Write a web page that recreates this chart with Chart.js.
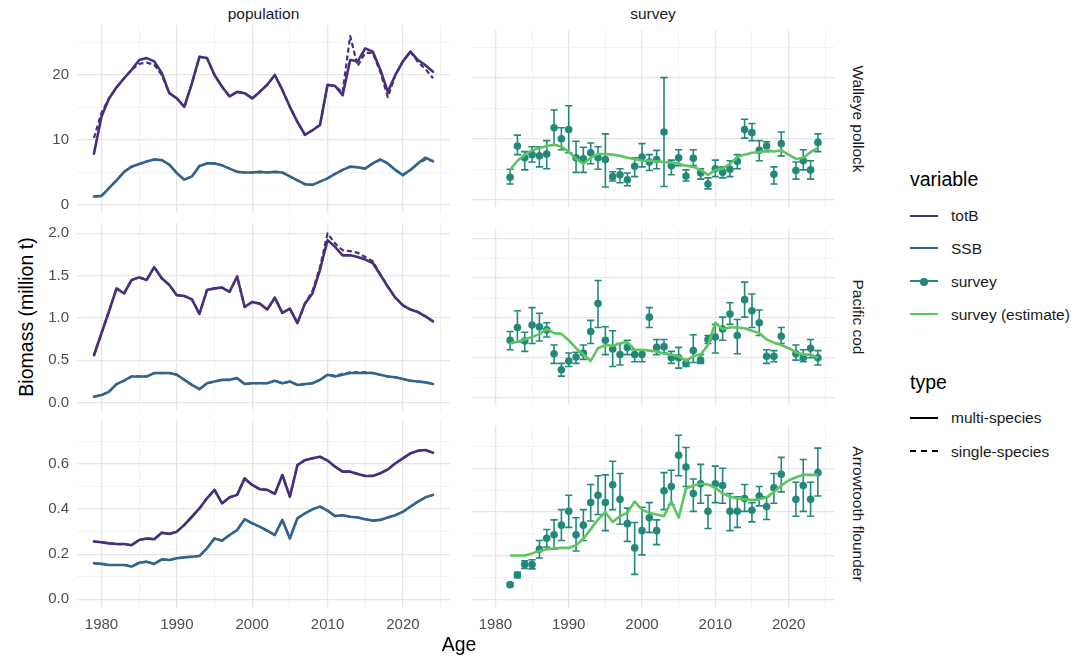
<!DOCTYPE html>
<html><head><meta charset="utf-8">
<script src="https://cdn.jsdelivr.net/npm/chart.js@4/dist/chart.umd.min.js"></script>
<style>
body{margin:0;background:#fff;width:1081px;height:657px;position:relative;overflow:hidden;font-family:"Liberation Sans",Arial,sans-serif}
canvas{position:absolute}
.t{position:absolute;white-space:nowrap;line-height:1}
.key{position:absolute;height:0}
</style></head><body>
<script>
// ---------------- DATA ----------------
const years = [1979,1980,1981,1982,1983,1984,1985,1986,1987,1988,1989,1990,1991,1992,1993,1994,1995,1996,1997,1998,1999,2000,2001,2002,2003,2004,2005,2006,2007,2008,2009,2010,2011,2012,2013,2014,2015,2016,2017,2018,2019,2020,2021,2022,2023,2024];
const surveyYears = [1982,1983,1984,1985,1986,1987,1988,1989,1990,1991,1992,1993,1994,1995,1996,1997,1998,1999,2000,2001,2002,2003,2004,2005,2006,2007,2008,2009,2010,2011,2012,2013,2014,2015,2016,2017,2018,2019,2021,2022,2023,2024];
const estYears = [1982,1983,1984,1985,1986,1987,1988,1989,1990,1991,1992,1993,1994,1995,1996,1997,1998,1999,2000,2001,2002,2003,2004,2005,2006,2007,2008,2009,2010,2011,2012,2013,2014,2015,2016,2017,2018,2019,2020,2021,2022,2023,2024];

// Walleye pollock
const pollockTotB_ms = [7.9,13.6,16.4,18.1,19.5,20.8,22.3,22.6,22.1,20.3,17.2,16.4,15.1,18.7,22.8,22.6,20.0,18.2,16.7,17.4,17.2,16.4,17.4,18.5,20.0,17.7,15.1,12.8,10.8,11.5,12.3,18.5,18.3,16.9,22.3,22.1,24.1,23.6,20.8,17.4,20.0,22.1,23.6,22.3,21.5,20.5];
const pollockTotB_ss = [10.3,14.2,16.4,18.1,19.5,20.8,21.7,21.9,21.6,20.0,17.2,16.4,15.1,18.7,22.8,22.6,20.0,18.2,16.7,17.4,17.2,16.4,17.4,18.5,20.0,17.7,15.1,12.8,10.8,11.5,12.3,18.5,18.3,17.3,26.0,21.4,23.4,23.4,20.5,16.6,20.0,22.1,23.6,22.0,20.9,19.5];
const pollockSSB_ms = [1.3,1.4,2.6,3.8,5.1,5.9,6.3,6.7,7.0,6.9,6.2,4.9,3.9,4.4,6.0,6.4,6.4,6.1,5.6,5.1,5.0,5.0,5.1,5.0,5.1,5.0,4.4,3.8,3.2,3.1,3.6,4.1,4.8,5.4,5.9,5.8,5.6,6.4,7.0,6.4,5.4,4.6,5.4,6.4,7.3,6.7];
const pollockSSB_ss = [1.3,1.4,2.6,3.8,5.1,5.9,6.3,6.7,7.0,6.9,6.2,4.9,3.9,4.4,6.0,6.4,6.4,6.1,5.6,5.1,5.0,5.0,5.1,5.0,5.1,5.0,4.4,3.8,3.2,3.1,3.6,4.1,4.8,5.4,5.9,5.8,5.6,6.4,7.0,6.4,5.4,4.6,5.4,6.4,7.0,6.8];
const pollockSurvey = [3.7,8.8,6.9,7.4,7.2,7.5,11.8,10.0,11.5,6.9,6.7,7.7,6.9,6.6,3.8,4.1,3.3,5.5,7.0,6.2,6.6,11.1,5.6,6.9,3.9,6.8,4.4,2.6,5.1,4.5,5.0,6.3,11.5,11.0,8.1,8.8,4.2,9.2,4.8,6.4,4.9,9.4];
const pollockLo = [2.6,7.4,4.9,6.2,5.4,5.1,9.0,8.2,7.7,4.5,4.5,5.9,5.0,2.1,3.1,2.8,2.3,3.8,5.4,4.8,5.1,2.2,4.1,5.6,3.1,5.6,3.4,1.8,3.8,3.6,3.8,5.1,10.1,9.7,6.4,7.9,2.6,7.2,3.4,4.9,3.4,7.9];
const pollockHi = [5.0,10.6,7.9,8.7,8.7,9.7,14.7,11.8,15.4,9.6,8.6,9.3,8.7,10.8,4.6,5.1,4.4,6.9,9.2,7.4,8.1,20.0,6.5,8.2,4.9,8.2,5.1,3.6,6.5,5.4,6.4,7.4,13.2,12.5,9.7,9.5,5.4,11.1,6.2,8.2,6.4,10.8];
const pollockEst = [4.9,6.4,7.4,8.1,8.5,8.8,9.0,8.7,7.9,6.7,5.9,6.9,7.5,7.5,7.4,7.2,6.9,6.7,6.4,6.4,6.3,6.2,6.1,5.9,5.6,5.4,4.9,4.1,4.9,5.1,5.9,7.0,7.4,7.7,7.8,8.1,7.9,8.1,7.4,6.7,6.9,7.8,8.5];

// Pacific cod
const codTotB_ms = [0.56,0.82,1.08,1.35,1.29,1.45,1.48,1.45,1.60,1.47,1.39,1.27,1.26,1.22,1.05,1.33,1.35,1.36,1.31,1.49,1.13,1.19,1.17,1.10,1.24,1.06,1.11,0.94,1.17,1.29,1.57,1.92,1.84,1.74,1.74,1.72,1.69,1.65,1.51,1.37,1.24,1.15,1.10,1.07,1.02,0.96];
const codTotB_ss = [0.56,0.82,1.08,1.35,1.29,1.45,1.48,1.45,1.60,1.47,1.39,1.27,1.26,1.22,1.05,1.33,1.35,1.36,1.31,1.49,1.13,1.19,1.17,1.10,1.24,1.06,1.11,0.94,1.17,1.32,1.60,2.00,1.88,1.80,1.79,1.77,1.72,1.67,1.52,1.37,1.24,1.15,1.10,1.07,1.02,0.96];
const codSSB_ms = [0.07,0.09,0.13,0.22,0.26,0.31,0.31,0.31,0.35,0.35,0.35,0.33,0.27,0.21,0.16,0.23,0.25,0.27,0.27,0.29,0.22,0.23,0.23,0.23,0.26,0.23,0.25,0.21,0.22,0.23,0.27,0.33,0.31,0.33,0.35,0.35,0.35,0.35,0.33,0.31,0.30,0.28,0.26,0.25,0.24,0.22];
const codSSB_ss = [0.07,0.09,0.13,0.22,0.26,0.31,0.31,0.31,0.35,0.35,0.35,0.33,0.27,0.21,0.16,0.23,0.25,0.27,0.27,0.29,0.22,0.23,0.23,0.23,0.26,0.23,0.25,0.21,0.22,0.23,0.27,0.33,0.32,0.34,0.36,0.36,0.36,0.35,0.33,0.31,0.30,0.28,0.26,0.25,0.24,0.22];
const codSurvey = [0.72,0.88,0.71,0.91,0.89,0.85,0.55,0.35,0.46,0.51,0.56,0.83,1.18,0.72,0.61,0.54,0.63,0.54,0.54,1.01,0.63,0.64,0.50,0.50,0.43,0.59,0.47,0.73,0.76,0.86,1.05,0.78,1.23,1.09,0.94,0.52,0.52,0.77,0.55,0.50,0.62,0.50];
const codLo = [0.60,0.70,0.58,0.68,0.71,0.76,0.43,0.27,0.39,0.43,0.48,0.68,0.88,0.54,0.39,0.41,0.54,0.45,0.45,0.88,0.54,0.56,0.43,0.37,0.39,0.44,0.43,0.68,0.56,0.72,0.92,0.55,1.01,0.88,0.78,0.43,0.45,0.68,0.47,0.45,0.50,0.41];
const codHi = [0.83,1.09,0.82,1.13,1.06,0.94,0.66,0.43,0.56,0.57,0.66,0.97,1.47,0.89,0.84,0.68,0.72,0.60,0.60,1.13,0.73,0.73,0.58,0.63,0.48,0.79,0.54,0.78,0.92,1.01,1.19,0.98,1.45,1.30,1.10,0.60,0.59,0.88,0.66,0.60,0.73,0.59];
const codEst = [0.68,0.70,0.73,0.76,0.80,0.86,0.81,0.80,0.72,0.62,0.54,0.46,0.62,0.66,0.65,0.68,0.70,0.60,0.60,0.59,0.58,0.55,0.54,0.52,0.46,0.52,0.54,0.66,0.94,0.86,0.88,0.88,0.87,0.84,0.81,0.73,0.69,0.66,0.62,0.57,0.54,0.54,0.50];

// Arrowtooth flounder
const arrowTotB_ms = [0.256,0.253,0.248,0.245,0.245,0.240,0.263,0.270,0.266,0.295,0.290,0.300,0.330,0.366,0.403,0.448,0.485,0.425,0.452,0.463,0.536,0.507,0.488,0.485,0.467,0.551,0.455,0.595,0.617,0.625,0.632,0.615,0.588,0.566,0.566,0.556,0.547,0.547,0.559,0.576,0.603,0.625,0.647,0.659,0.662,0.650];
const arrowTotB_ss = [0.256,0.253,0.248,0.245,0.245,0.240,0.263,0.270,0.266,0.295,0.290,0.300,0.330,0.366,0.403,0.448,0.485,0.425,0.452,0.463,0.536,0.507,0.488,0.485,0.467,0.551,0.455,0.595,0.617,0.625,0.632,0.615,0.588,0.566,0.566,0.556,0.547,0.547,0.559,0.576,0.603,0.625,0.647,0.659,0.662,0.650];
const arrowSSB_ms = [0.160,0.157,0.152,0.152,0.152,0.145,0.162,0.167,0.157,0.177,0.174,0.182,0.186,0.189,0.192,0.226,0.270,0.260,0.285,0.307,0.355,0.337,0.322,0.304,0.285,0.352,0.270,0.359,0.381,0.399,0.411,0.393,0.369,0.373,0.366,0.363,0.355,0.349,0.352,0.363,0.373,0.388,0.411,0.433,0.452,0.463];
const arrowSSB_ss = [0.160,0.157,0.152,0.152,0.152,0.145,0.162,0.167,0.157,0.177,0.174,0.182,0.186,0.189,0.192,0.226,0.270,0.260,0.285,0.307,0.355,0.337,0.322,0.304,0.285,0.352,0.270,0.359,0.381,0.399,0.411,0.393,0.369,0.373,0.366,0.363,0.355,0.349,0.352,0.363,0.373,0.388,0.411,0.433,0.452,0.463];
const arrowSurvey = [0.068,0.112,0.160,0.160,0.230,0.280,0.296,0.340,0.403,0.296,0.340,0.443,0.477,0.443,0.525,0.458,0.347,0.236,0.315,0.374,0.315,0.497,0.517,0.659,0.606,0.485,0.529,0.403,0.529,0.521,0.403,0.403,0.462,0.408,0.473,0.425,0.511,0.573,0.458,0.521,0.458,0.580];
const arrowLo = [0.060,0.100,0.142,0.140,0.190,0.240,0.230,0.270,0.330,0.222,0.270,0.359,0.389,0.315,0.411,0.344,0.266,0.115,0.204,0.307,0.251,0.411,0.433,0.566,0.517,0.403,0.440,0.325,0.443,0.440,0.315,0.330,0.403,0.355,0.428,0.366,0.440,0.492,0.381,0.403,0.381,0.473];
const arrowHi = [0.076,0.125,0.177,0.182,0.270,0.320,0.364,0.411,0.477,0.374,0.411,0.526,0.566,0.570,0.632,0.576,0.418,0.352,0.422,0.443,0.364,0.580,0.591,0.751,0.695,0.551,0.618,0.477,0.610,0.600,0.485,0.470,0.526,0.443,0.517,0.470,0.576,0.650,0.536,0.640,0.536,0.692];
const arrowEst = [0.201,0.201,0.201,0.211,0.222,0.230,0.233,0.236,0.236,0.248,0.278,0.322,0.366,0.399,0.355,0.381,0.396,0.448,0.411,0.396,0.389,0.381,0.448,0.374,0.507,0.521,0.529,0.526,0.511,0.485,0.470,0.462,0.458,0.455,0.458,0.467,0.492,0.521,0.544,0.559,0.570,0.570,0.570];

// Tick values / labels
const xGrid = [1980,1985,1990,1995,2000,2005,2010,2015,2020,2025];
const xLabels = [1980,1990,2000,2010,2020];
const yGridPollock = [0,5,10,15,20,25];
const yLabelsPollock = [0,10,20];
const yGridCod = [0,0.25,0.5,0.75,1,1.25,1.5,1.75,2];
const yLabelsCod = [0,0.5,1,1.5,2];
const yGridArrow = [0,0.1,0.2,0.3,0.4,0.5,0.6,0.7];
const yLabelsArrow = [0,0.2,0.4,0.6];

const rowNames = ["Walleye pollock","Pacific cod","Arrowtooth flounder"];
const colNames = ["population","survey"];
const legendVariable = ["totB","SSB","survey","survey (estimate)"];
const legendType = ["multi-species","single-species"];

// ---------------- STYLE / LAYOUT ----------------
const COL = {totB:'#472F7D', SSB:'#33648D', survey:'#22897A', est:'#5DC560'};
const FONT = '"Liberation Sans", Arial, sans-serif';
const colX = [{left:40, yw:37, w:410},{left:466, yw:0, w:374}];
const rowY = [{top:25, h:188},{top:223, h:188},{top:420, h:188}];
const rowRange = [{min:-1.23,max:27.69},{min:-0.098,max:2.122},{min:-0.0386,max:0.795}];
const rowGrid = [yGridPollock, yGridCod, yGridArrow];
const rowLabels = [yLabelsPollock, yLabelsCod, yLabelsArrow];
const rowDec = [0,1,1];
const XAXH = 27;

const pts = (xs, ys) => xs.map((x,i)=>({x:x, y:ys[i]}));
const inList = (v, list) => list.some(l => Math.abs(l - v) < 1e-6);

function popDatasets(totMs, totSs, ssbMs, ssbSs){
  const base = {showLine:true, pointRadius:0, fill:false, tension:0, borderJoinStyle:'round', borderCapStyle:'round'};
  return [
    Object.assign({}, base, {data:pts(years,totSs), borderColor:COL.totB, borderWidth:2.2, borderDash:[5,3], borderCapStyle:'butt'}),
    Object.assign({}, base, {data:pts(years,ssbSs), borderColor:COL.SSB, borderWidth:2.2, borderDash:[5,3], borderCapStyle:'butt'}),
    Object.assign({}, base, {data:pts(years,totMs), borderColor:COL.totB, borderWidth:2.6}),
    Object.assign({}, base, {data:pts(years,ssbMs), borderColor:COL.SSB, borderWidth:2.6})
  ];
}
function surveyDatasets(obs, lo, hi, est){
  const stems = [];
  surveyYears.forEach((yr,i)=>{ stems.push({x:yr,y:lo[i]},{x:yr,y:hi[i]},{x:yr,y:null}); });
  const caps = [];
  surveyYears.forEach((yr,i)=>{ caps.push({x:yr,y:lo[i]},{x:yr,y:hi[i]}); });
  return [
    {data:pts(estYears,est), borderColor:COL.est, borderWidth:2.6, pointRadius:0, fill:false, tension:0, borderJoinStyle:'round'},
    {data:pts(surveyYears,obs), showLine:false, pointRadius:3.8, pointBackgroundColor:COL.survey, pointBorderWidth:0, borderColor:COL.survey},
    {data:caps, showLine:false, pointStyle:'line', pointRadius:3.6, pointBorderWidth:1.6, pointBorderColor:COL.survey, borderColor:COL.survey},
    {data:stems, spanGaps:false, borderColor:COL.survey, borderWidth:1.6, pointRadius:0, fill:false}
  ];
}

const panelData = [
  [popDatasets(pollockTotB_ms,pollockTotB_ss,pollockSSB_ms,pollockSSB_ss), surveyDatasets(pollockSurvey,pollockLo,pollockHi,pollockEst)],
  [popDatasets(codTotB_ms,codTotB_ss,codSSB_ms,codSSB_ss), surveyDatasets(codSurvey,codLo,codHi,codEst)],
  [popDatasets(arrowTotB_ms,arrowTotB_ss,arrowSSB_ms,arrowSSB_ss), surveyDatasets(arrowSurvey,arrowLo,arrowHi,arrowEst)]
];

function gridStyle(isMajor){
  return {
    drawTicks:false,
    color: ctx => (ctx.tick && isMajor(ctx.tick.value)) ? '#E6E6E6' : '#F0F0F0',
    lineWidth: ctx => (ctx.tick && isMajor(ctx.tick.value)) ? 1.3 : 0.8
  };
}

for (let r=0;r<3;r++){
  for (let c=0;c<2;c++){
    const bottom = (r===2);
    const cv = document.createElement('canvas');
    const H = rowY[r].h + (bottom?XAXH:0);
    cv.width = colX[c].w; cv.height = H;
    cv.style.left = colX[c].left+'px'; cv.style.top = rowY[r].top+'px';
    cv.style.width = colX[c].w+'px'; cv.style.height = H+'px';
    document.body.appendChild(cv);
    const yw = colX[c].yw;
    new Chart(cv, {
      type:'line',
      data:{datasets: panelData[r][c]},
      options:{
        responsive:false, animation:false, devicePixelRatio:1,
        layout:{padding:0},
        plugins:{legend:{display:false}, tooltip:{enabled:false}},
        scales:{
          x:{
            type:'linear', min:1976.75, max:2026.25,
            afterBuildTicks: s => { s.ticks = xGrid.map(v=>({value:v})); },
            grid: gridStyle(v => inList(v, xLabels)),
            border:{display:false},
            ticks:{display:bottom, autoSkip:false, maxRotation:0, minRotation:0, padding:8,
              font:{size:15, family:FONT}, color:'#4D4D4D',
              callback: v => inList(v, xLabels) ? String(v) : ''},
            afterFit: s => { s.height = bottom?XAXH:0; s.paddingLeft=0; s.paddingRight=0; }
          },
          y:{
            type:'linear', min:rowRange[r].min, max:rowRange[r].max,
            afterBuildTicks: s => { s.ticks = rowGrid[r].map(v=>({value:v})); },
            grid: gridStyle(v => inList(v, rowLabels[r])),
            border:{display:false},
            ticks:{display:(c===0), padding:8, font:{size:15, family:FONT}, color:'#4D4D4D',
              callback: v => inList(v, rowLabels[r]) ? v.toFixed(rowDec[r]) : ''},
            afterFit: s => { s.width = yw; s.paddingTop=0; s.paddingBottom=0; }
          }
        }
      }
    });
  }
}

// ---------------- TEXT ----------------
function addText(txt, x, y, size, color, opts){
  const d = document.createElement('div');
  d.className='t'; d.textContent = txt;
  d.style.fontSize = size+'px'; d.style.color = color;
  d.style.left = x+'px'; d.style.top = y+'px';
  let tr = (opts && opts.anchor==='left') ? 'translate(0,-50%)' : 'translate(-50%,-50%)';
  if (opts && opts.rot) tr += ' rotate('+opts.rot+'deg)';
  d.style.transform = tr;
  document.body.appendChild(d);
  return d;
}
// strips
addText(colNames[0], 263.5, 14, 15.5, '#1A1A1A');
addText(colNames[1], 653, 14, 15.5, '#1A1A1A');
rowNames.forEach((n,i)=> addText(n, 858, rowY[i].top + rowY[i].h/2, 15.5, '#1A1A1A', {rot:90}));
// axis titles
addText('Biomass (million t)', 27, 317, 19.5, '#000', {rot:-90});
addText('Age', 459, 645, 19.5, '#000');

// legend
addText('variable', 910, 180, 19.5, '#000', {anchor:'left'});
const varY = [216, 248.5, 281.5, 314.5];
const varCol = [COL.totB, COL.SSB, COL.survey, COL.est];
legendVariable.forEach((n,i)=>{
  addText(n, 951, varY[i], 15.5, '#1A1A1A', {anchor:'left'});
  const k = document.createElement('div');
  k.className='key';
  k.style.left='910px'; k.style.width='28px'; k.style.top=(varY[i]-1.3)+'px';
  k.style.borderTop='2.6px solid '+varCol[i];
  document.body.appendChild(k);
  if (i===2){
    const p = document.createElement('div');
    p.style.cssText='position:absolute;width:8px;height:8px;border-radius:50%;background:'+COL.survey+';left:920px;top:'+(varY[i]-4)+'px';
    document.body.appendChild(p);
  }
});
addText('type', 910, 383, 19.5, '#000', {anchor:'left'});
const typeY = [418, 451.5];
legendType.forEach((n,i)=>{
  addText(n, 951, typeY[i], 15.5, '#1A1A1A', {anchor:'left'});
  const k = document.createElement('div');
  k.className='key';
  k.style.left='910px'; k.style.width='28px'; k.style.top=(typeY[i]-1.3)+'px';
  k.style.borderTop = (i===0 ? '2.6px solid #000' : '2.6px dashed #000');
  document.body.appendChild(k);
});
</script>
</body></html>
